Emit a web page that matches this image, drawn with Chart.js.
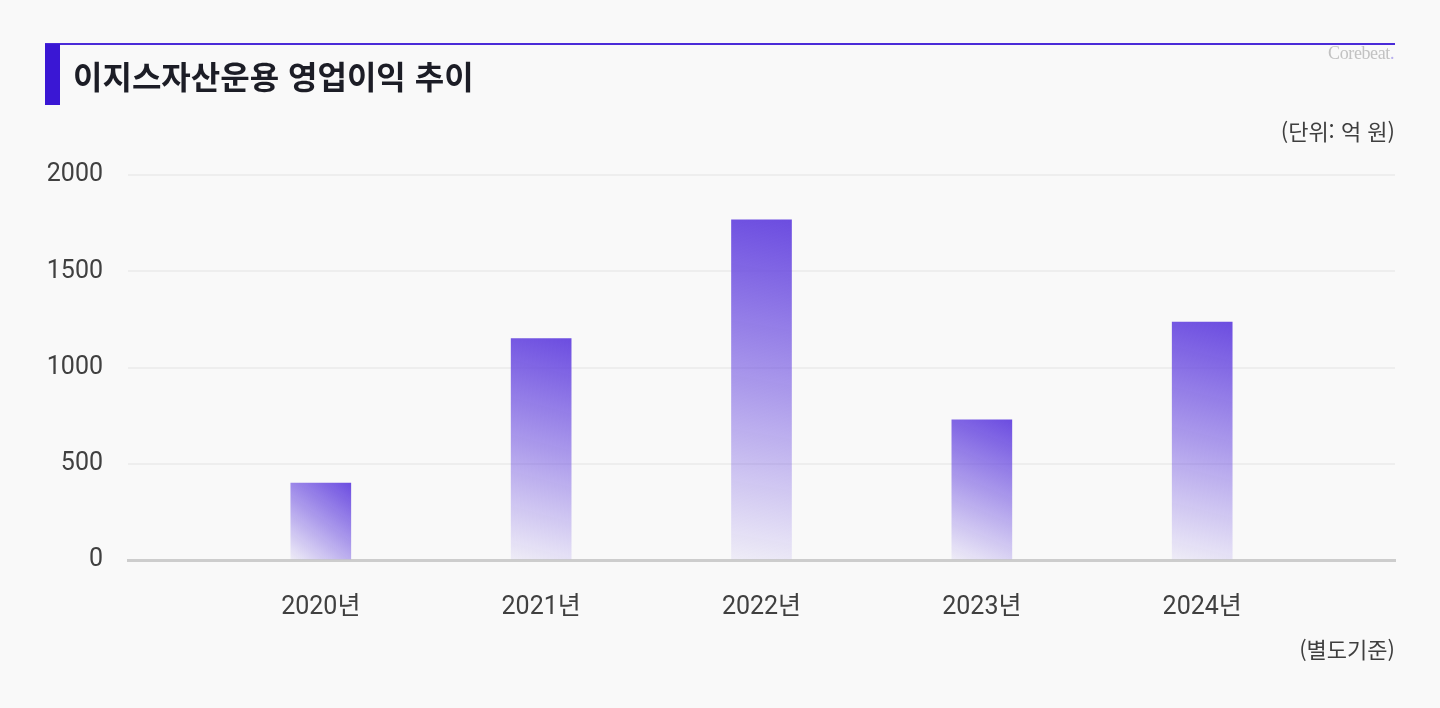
<!DOCTYPE html>
<html lang="ko">
<head>
<meta charset="utf-8">
<title>이지스자산운용 영업이익 추이</title>
<script src="https://cdn.jsdelivr.net/npm/chart.js@4"></script>
<style>
  html, body { margin: 0; padding: 0; background: #f9f9f9; }
  #wrap { position: relative; width: 1440px; height: 708px; overflow: hidden; font-family: "Noto Sans CJK KR", sans-serif; }
  #chart { position: absolute; left: 0; top: 0; }
  .topline { position: absolute; left: 45px; top: 43px; width: 1350px; height: 2px; background: #4a2bd8; }
  .block { position: absolute; left: 45px; top: 44px; width: 15px; height: 61px; background: #3a17d4; }
  .title { position: absolute; left: 73px; top: 51px; font-size: 32px; font-weight: 700; color: #1c1d26; letter-spacing: 0; line-height: 48px; }
  .logo { position: absolute; right: 46px; top: 43px; font-family: "Liberation Serif", serif; font-size: 18px; color: #c2c2c2; letter-spacing: -0.4px; }
  .logo span { color: #b9b0ee; }
  .unit, .note { position: absolute; right: 45px; font-size: 22px; color: #3f3f3f; line-height: 30px; }
  .unit { top: 115px; }
  .note { top: 633px; }
</style>
</head>
<body>
<div id="wrap">
  <canvas id="chart" width="1440" height="708"></canvas>
  <div class="topline"></div>
  <div class="block"></div>
  <div class="title">이지스자산운용 영업이익 추이</div>
  <div class="logo">Corebeat<span>.</span></div>
  <div class="unit">(단위: 억 원)</div>
  <div class="note">(별도기준)</div>
</div>
<script>
  // 연도별 영업이익 (억 원)
  const years = ["2020년", "2021년", "2022년", "2023년", "2024년"];
  const profit = [400, 1150, 1767, 728, 1236];
  const yTicks = [0, 500, 1000, 1500, 2000];

  const barTop = "#6c4de0";
  const barWidth = 60;

  function barGradient(context) {
    const chart = context.chart;
    const xs = chart.scales.x;
    const ys = chart.scales.y;
    if (!chart.chartArea || !xs || !ys) return barTop;
    const i = context.dataIndex;
    const cx = xs.getPixelForValue(i);
    const top = ys.getPixelForValue(profit[i]);
    const bottom = ys.getPixelForValue(0);
    const g = chart.ctx.createLinearGradient(cx + barWidth / 2, top, cx - barWidth / 2, bottom);
    g.addColorStop(0, "rgba(108, 77, 224, 1)");
    g.addColorStop(0.5, "rgba(108, 77, 224, 0.55)");
    g.addColorStop(1, "rgba(108, 77, 224, 0.07)");
    return g;
  }

  const ctx = document.getElementById("chart");

  new Chart(ctx, {
    type: "bar",
    data: {
      datasets: [
        {
          label: "영업이익",
          data: profit.map((v, i) => ({ x: i, y: v })),
          backgroundColor: barGradient,
          borderWidth: 0,
          barThickness: barWidth,
        },
      ],
    },
    options: {
      responsive: false,
      animation: false,
      layout: {
        padding: { top: 175, right: 45, bottom: 48, left: 0 },
      },
      scales: {
        x: {
          type: "linear",
          offset: false,
          min: -0.875,
          max: years.length - 0.125,
          afterBuildTicks: (scale) => {
            scale.ticks = years.map((_, i) => ({ value: i }));
          },
          afterFit: (scale) => {
            scale.height = 100;
          },
          grid: { display: false, drawTicks: false },
          border: { display: true, color: "#cdcdcd", width: 3 },
          ticks: {
            padding: 33,
            color: "#404040",
            font: { family: "Roboto, 'Noto Sans CJK KR'", size: 25 },
            callback: (v) => years[v],
            maxRotation: 0,
            autoSkip: false,
          },
        },
        y: {
          min: 0,
          max: 2000,
          afterBuildTicks: (scale) => {
            scale.ticks = yTicks.map((v) => ({ value: v }));
          },
          afterFit: (scale) => {
            scale.width = 128;
          },
          grid: { color: "#eeeeee", lineWidth: 2, drawTicks: false },
          border: { display: false },
          ticks: {
            padding: 25,
            color: "#404040",
            font: { family: "Roboto, 'Noto Sans CJK KR'", size: 25 },
            callback: (v) => String(v),
          },
        },
      },
      plugins: {
        legend: { display: false },
        tooltip: { enabled: false },
      },
    },
  });
</script>
</body>
</html>
